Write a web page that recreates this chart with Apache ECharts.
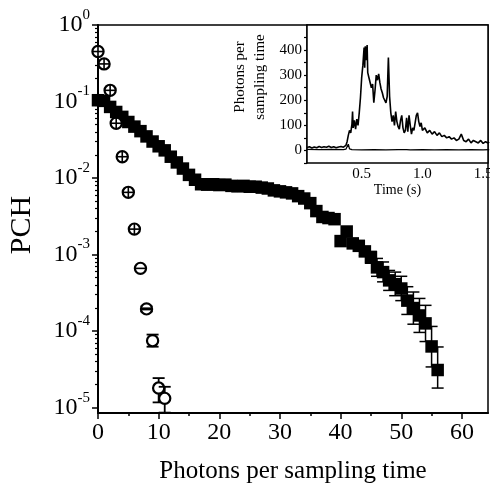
<!DOCTYPE html>
<html><head><meta charset="utf-8">
<script src="https://cdn.jsdelivr.net/npm/echarts@6/dist/echarts.min.js"></script>
<style>html,body{margin:0;padding:0;background:#fff}#c{width:490px;height:491px}</style>
</head><body><div id="c"></div>
<script>
// ---- main plot: PCH (filled squares) ----
const squareX = [0,1,2,3,4,5,6,7,8,9,10,11,12,13,14,15,16,17,18,19,20,21,22,23,24,25,26,27,28,29,30,31,32,33,34,35,36,37,38,39,40,41,42,43,44,45,46,47,48,49,50,51,52,53,54,55,56];
const squareY = [0.104,0.102,0.085,0.073,0.063,0.054,0.047,0.041,0.035,0.030,0.026,0.023,0.019,0.016,0.0133,0.011,0.0095,0.0083,0.0082,0.0083,0.0081,0.0082,0.0079,0.0078,0.0079,0.0077,0.0077,0.0075,0.0073,0.0069,0.0067,0.0065,0.0063,0.0058,0.0054,0.0047,0.0037,0.0031,0.0030,0.0029,0.0015,0.0020,0.0014,0.0013,0.00110,0.00092,0.00068,0.00059,0.00046,0.00041,0.00036,0.00025,0.00020,0.00016,0.000126,0.000063,0.000031];
// error bars of the squares
const squareErrX  = [44,45,46,47,48,49,50,51,52,53,54,55,56];
const squareErrLo = [0.00097,0.00077,0.00052,0.00044,0.00034,0.00029,0.00025,0.000165,0.000123,0.000096,0.000073,0.000034,0.000018];
const squareErrHi = [0.00124,0.0011,0.00089,0.00080,0.00062,0.00059,0.00052,0.00038,0.000324,0.000267,0.000217,0.000115,0.000062];
// ---- main plot: open circles ----
const circleX  = [0,1,2,3,4,5,6,7,8,9,10,11];
const circleY  = [0.45,0.31,0.14,0.052,0.019,0.0065,0.00215,0.00066,0.000195,0.000075,0.000018,0.0000132];
const circleLo = [0.45,0.31,0.14,0.052,0.019,0.0065,0.00215,0.00066,0.000181,0.0000625,0.0000117,0.0000086];
const circleHi = [0.45,0.31,0.14,0.052,0.019,0.0065,0.00215,0.00066,0.00021,0.00009,0.0000243,0.0000187];
// ---- axis ticks ----
const xTickMajor = [0,10,20,30,40,50,60];
const xTickMinor = [5,15,25,35,45,55];
const yTickMajor = [1e-5,1e-4,1e-3,1e-2,1e-1,1];
const yTickMinor = [];
for (let e = -5; e < 0; e++) for (let k = 2; k <= 9; k++) yTickMinor.push(+(k * Math.pow(10, e)).toPrecision(3));
// ---- inset: time trace ----
const traceT = [0.05,0.07,0.09,0.11,0.13,0.15,0.17,0.19,0.21,0.23,0.25,0.27,0.29,0.31,0.33,0.35,0.37,0.38,0.39,0.40,0.41,0.42,0.425,0.43,0.44,0.45,0.46,0.47,0.48,0.49,0.50,0.51,0.52,0.525,0.53,0.54,0.545,0.55,0.56,0.57,0.58,0.59,0.60,0.61,0.62,0.63,0.64,0.65,0.66,0.67,0.68,0.69,0.70,0.71,0.72,0.73,0.74,0.75,0.76,0.77,0.78,0.79,0.80,0.81,0.82,0.83,0.84,0.85,0.86,0.87,0.88,0.89,0.90,0.91,0.92,0.93,0.94,0.95,0.96,0.97,0.98,0.99,1.00,1.02,1.04,1.06,1.08,1.10,1.12,1.14,1.16,1.18,1.20,1.22,1.24,1.26,1.28,1.30,1.32,1.34,1.36,1.38,1.40,1.42,1.44,1.46,1.48,1.50,1.52,1.54,1.55];
const traceA = [12,15,10,14,11,16,12,15,13,17,12,15,11,14,16,13,20,35,60,80,70,105,155,90,120,85,125,100,150,210,290,340,410,330,415,360,420,310,290,270,250,265,190,240,300,280,305,270,245,230,210,205,190,215,370,215,150,115,140,100,155,115,95,85,120,140,90,70,80,130,75,140,100,65,90,80,110,140,150,115,95,110,80,90,70,80,65,75,60,70,55,60,50,55,45,50,40,45,65,40,35,45,30,40,35,30,40,28,35,30,33];
const backT = [0.05,0.15,0.25,0.35,0.37,0.39,0.40,0.42,0.5,0.6,0.7,0.8,0.85,0.86,0.87,0.9,1.0,1.1,1.2,1.3,1.4,1.5,1.55];
const backB = [4,3,4,3,5,25,6,3,2,3,2,3,3,10,3,2,3,2,3,2,3,2,3];
const insetXTicks = [0.25,0.5,0.75,1.0,1.25,1.5];
const insetXLabels = [0.5,1.0,1.5];
const insetYTicks = [-50,0,50,100,150,200,250,300,350,400,450];
const insetYLabels = [0,100,200,300,400];

const FONT = 'Liberation Serif';
const BLACK = '#000';

const chart = echarts.init(document.getElementById('c'), null, {renderer: 'canvas'});

function errRender(params, api) {
  const x = api.value(0), lo = api.value(1), hi = api.value(2);
  const a = api.coord([x, hi]), b = api.coord([x, lo]);
  const w = 6, st = {stroke: BLACK, lineWidth: 1.5};
  return {type: 'group', children: [
    {type: 'line', shape: {x1: a[0], y1: a[1], x2: b[0], y2: b[1]}, style: st},
    {type: 'line', shape: {x1: a[0] - w, y1: a[1], x2: a[0] + w, y2: a[1]}, style: st},
    {type: 'line', shape: {x1: b[0] - w, y1: b[1], x2: b[0] + w, y2: b[1]}, style: st}
  ]};
}
function circleRender(params, api) {
  const x = api.value(0), y = api.value(1), lo = api.value(2), hi = api.value(3);
  const c = api.coord([x, y]);
  const r = 5.6, st = {stroke: BLACK, lineWidth: 1.8};
  const ch = [];
  if (hi > lo) {
    const a = api.coord([x, hi]), b = api.coord([x, lo]), w = 6;
    ch.push({type: 'line', shape: {x1: a[0], y1: a[1], x2: b[0], y2: b[1]}, style: st});
    ch.push({type: 'line', shape: {x1: a[0] - w, y1: a[1], x2: a[0] + w, y2: a[1]}, style: st});
    ch.push({type: 'line', shape: {x1: b[0] - w, y1: b[1], x2: b[0] + w, y2: b[1]}, style: st});
  }
  ch.push({type: 'circle', shape: {cx: c[0], cy: c[1], r: r}, style: {fill: '#fff', stroke: BLACK, lineWidth: 2.2}});
  if (params.dataIndex <= 8) ch.push({type: 'line', shape: {x1: c[0] - r, y1: c[1], x2: c[0] + r, y2: c[1]}, style: {stroke: BLACK, lineWidth: params.dataIndex === 8 ? 3 : 1.6}});
  if (params.dataIndex <= 6) ch.push({type: 'line', shape: {x1: c[0], y1: c[1] - r, x2: c[0], y2: c[1] + r}, style: {stroke: BLACK, lineWidth: 1.6}});
  return {type: 'group', children: ch};
}

const supFmt = function (v) {
  const e = Math.round(Math.log10(v));
  return '{b|10}{s|' + e + '}';
};

const option = {
  backgroundColor: '#fff',
  animation: false,
  grid: [
    {left: 98, top: 25, right: 2, bottom: 78, show: true, borderColor: BLACK, borderWidth: 1.5, backgroundColor: 'transparent', outerBoundsMode: 'none'},
    {left: 307, top: 25, right: 2, height: 138, show: true, borderColor: BLACK, borderWidth: 1.5, backgroundColor: '#fff', outerBoundsMode: 'none', z: 5}
  ],
  xAxis: [
    {gridIndex: 0, type: 'value', position: 'bottom', min: 0, max: 64.3,
     axisLine: {lineStyle: {color: BLACK, width: 2}},
     axisTick: {customValues: xTickMajor, length: 6, lineStyle: {color: BLACK, width: 1.5}},
     axisLabel: {customValues: xTickMajor, margin: 8, fontSize: 24, fontFamily: FONT, color: BLACK},
     splitLine: {show: false},
     name: 'Photons per sampling time', nameLocation: 'middle', nameGap: 46,
     nameTextStyle: {fontSize: 25, fontFamily: FONT, color: BLACK}},
    {gridIndex: 0, type: 'value', position: 'bottom', min: 0, max: 64.3,
     axisLine: {show: false},
     axisTick: {customValues: xTickMinor, length: 3, lineStyle: {color: BLACK, width: 1.5}},
     axisLabel: {show: false}, splitLine: {show: false}},
    {gridIndex: 1, type: 'value', position: 'bottom', min: 0.05, max: 1.54,
     axisLine: {lineStyle: {color: BLACK, width: 1.5}},
     axisTick: {customValues: insetXTicks, length: 3, lineStyle: {color: BLACK, width: 1.2}},
     axisLabel: {customValues: insetXLabels, margin: 4, fontSize: 15, fontFamily: FONT, color: BLACK,
                 formatter: v => v.toFixed(1)},
     splitLine: {show: false},
     name: 'Time (s)', nameLocation: 'middle', nameGap: 13,
     nameTextStyle: {fontSize: 14, fontFamily: FONT, color: BLACK}}
  ],
  yAxis: [
    {gridIndex: 0, type: 'log', position: 'left', min: 8.5e-6, max: 1,
     axisLine: {lineStyle: {color: BLACK, width: 2}},
     axisTick: {customValues: yTickMajor, length: 6, lineStyle: {color: BLACK, width: 1.5}},
     axisLabel: {customValues: yTickMajor, margin: 8, formatter: supFmt,
       rich: {b: {fontSize: 24, fontFamily: FONT, color: BLACK},
              s: {fontSize: 15, fontFamily: FONT, color: BLACK, padding: [0, 0, 20, 0]}}},
     splitLine: {show: false},
     name: 'PCH', nameLocation: 'middle', nameGap: 61,
     nameTextStyle: {fontSize: 30, fontFamily: FONT, color: BLACK, padding: [0, 12, 0, 0]}},
    {gridIndex: 0, type: 'log', position: 'left', min: 8.5e-6, max: 1,
     axisLine: {show: false},
     axisTick: {customValues: yTickMinor, length: 3, lineStyle: {color: BLACK, width: 1.2}},
     axisLabel: {show: false}, splitLine: {show: false}},
    {gridIndex: 1, type: 'value', position: 'left', min: -50, max: 500,
     axisLine: {lineStyle: {color: BLACK, width: 1.5}},
     axisTick: {customValues: insetYTicks, length: 3, lineStyle: {color: BLACK, width: 1.2}},
     axisLabel: {customValues: insetYLabels, margin: 5, fontSize: 15, fontFamily: FONT, color: BLACK},
     splitLine: {show: false},
     name: 'Photons per\nsampling time', nameLocation: 'middle', nameGap: 37,
     nameTextStyle: {fontSize: 15, lineHeight: 20, fontFamily: FONT, color: BLACK, padding: [0, 0, 0, 34]}}
  ],
  series: [
    {type: 'scatter', xAxisIndex: 0, yAxisIndex: 0, symbol: 'rect', symbolSize: 12.5, clip: false,
     itemStyle: {color: BLACK, opacity: 1}, data: squareX.map((x, i) => [x, squareY[i]]), z: 3},
    {type: 'custom', xAxisIndex: 0, yAxisIndex: 0, renderItem: errRender, clip: false,
     encode: {x: 0, y: [1, 2]}, data: squareErrX.map((x, i) => [x, squareErrLo[i], squareErrHi[i]]), z: 4},
    {type: 'custom', xAxisIndex: 0, yAxisIndex: 0, renderItem: circleRender, clip: false,
     encode: {x: 0, y: [1, 2, 3]}, data: circleX.map((x, i) => [x, circleY[i], circleLo[i], circleHi[i]]), z: 5},
    {type: 'line', xAxisIndex: 2, yAxisIndex: 2, showSymbol: false, symbol: 'none',
     lineStyle: {color: BLACK, width: 1.3}, data: backT.map((t, i) => [t, backB[i]]), z: 6},
    {type: 'line', xAxisIndex: 2, yAxisIndex: 2, showSymbol: false, symbol: 'none',
     lineStyle: {color: BLACK, width: 1.6}, data: traceT.map((t, i) => [t, traceA[i]]), z: 6}
  ]
};
chart.setOption(option);
</script>
</body></html>
